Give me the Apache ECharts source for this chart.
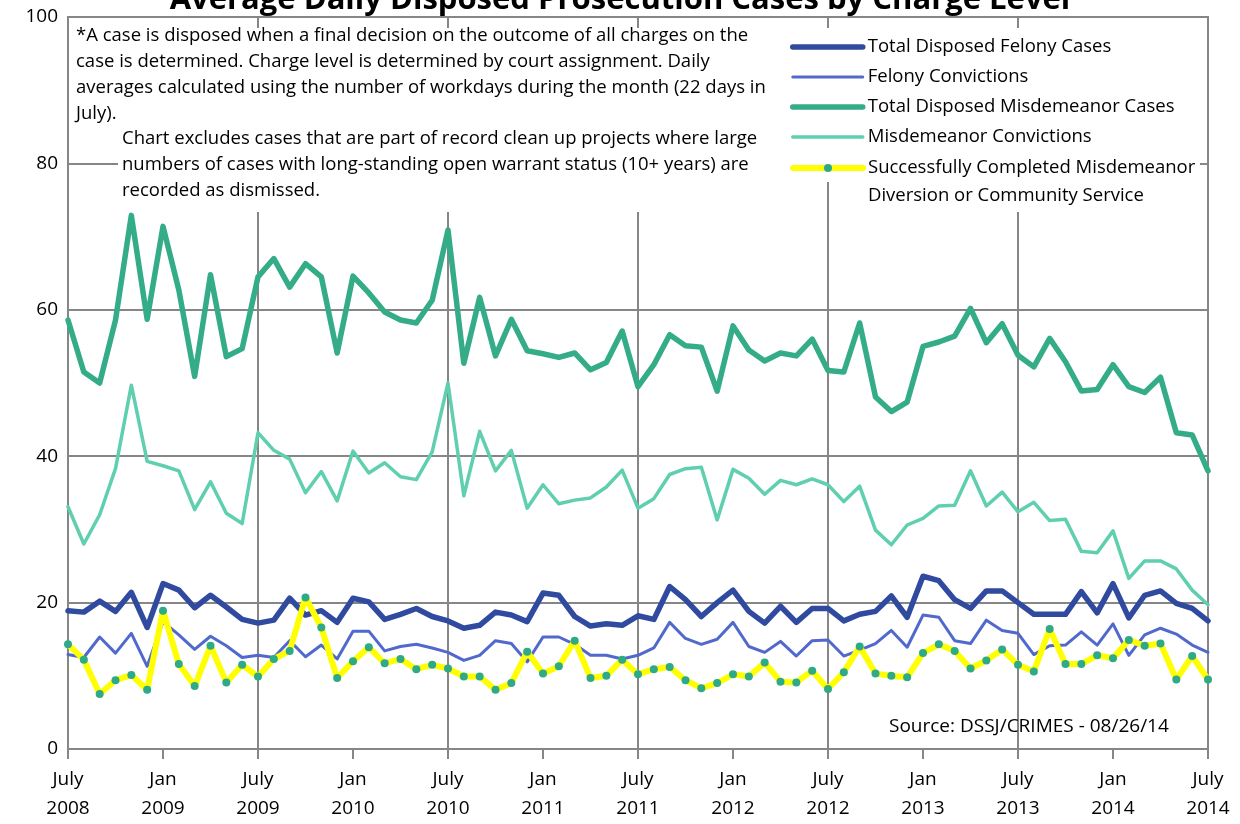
<!DOCTYPE html>
<html>
<head>
<meta charset="utf-8">
<title>Average Daily Disposed Prosecution Cases by Charge Level</title>
<script src="https://cdn.jsdelivr.net/npm/echarts@6/dist/echarts.min.js"></script>
<style>
  html, body { margin: 0; padding: 0; background: #fff; }
  #chart { width: 1240px; height: 824px; }
</style>
</head>
<body>
<div id="chart"></div>
<script>
// months July 2008 .. July 2014
var categories = [];
for (var m = 0; m < 73; m++) {
    var k = 6 + m;
    categories.push((2008 + Math.floor(k / 12)) + '-' + (k % 12 + 1));
}
var tickNames = { 1: 'Jan', 7: 'July' };

var seriesNames = [
    'Total Disposed Felony Cases',
    'Felony Convictions',
    'Total Disposed Misdemeanor Cases',
    'Misdemeanor Convictions',
    'Successfully Completed Misdemeanor\nDiversion or Community Service'
];

var totalFelony = [18.9, 18.7, 20.2, 18.8, 21.4, 16.6, 22.6, 21.7, 19.3, 21.0, 19.4, 17.7,
    17.2, 17.6, 20.6, 18.3, 18.9, 17.3, 20.6, 20.1, 17.7, 18.4, 19.2, 18.1,
    17.5, 16.5, 16.9, 18.7, 18.3, 17.4, 21.3, 21.0, 18.1, 16.8, 17.1, 16.9,
    18.2, 17.7, 22.2, 20.4, 18.1, 20.0, 21.7, 18.8, 17.2, 19.5, 17.3, 19.2,
    19.2, 17.5, 18.4, 18.8, 20.9, 18.0, 23.6, 23.0, 20.4, 19.2, 21.6, 21.6,
    20.0, 18.4, 18.4, 18.4, 21.5, 18.6, 22.6, 17.9, 21.0, 21.6, 19.9, 19.2, 17.5];

var felonyConv = [12.9, 12.5, 15.3, 13.1, 15.8, 11.3, 17.4, 15.6, 13.6, 15.4, 14.1, 12.5,
    12.8, 12.5, 14.8, 12.6, 14.2, 12.3, 16.1, 16.1, 13.4, 14.0, 14.3, 13.8,
    13.2, 12.1, 12.8, 14.8, 14.4, 11.9, 15.3, 15.3, 14.3, 12.8, 12.8, 12.3,
    12.8, 13.8, 17.3, 15.1, 14.3, 15.0, 17.3, 14.0, 13.2, 14.7, 12.7, 14.8,
    14.9, 12.7, 13.5, 14.4, 16.2, 13.9, 18.3, 18.0, 14.8, 14.4, 17.6, 16.2,
    15.8, 12.9, 14.1, 14.2, 16.0, 14.2, 17.1, 12.8, 15.6, 16.5, 15.7, 14.2, 13.2];

var totalMisd = [58.6, 51.5, 50.0, 58.6, 72.9, 58.7, 71.4, 62.7, 50.9, 64.8, 53.6, 54.7,
    64.5, 67.0, 63.1, 66.3, 64.5, 54.1, 64.6, 62.3, 59.7, 58.6, 58.2, 61.3,
    70.9, 52.7, 61.7, 53.7, 58.7, 54.4, 54.0, 53.5, 54.1, 51.8, 52.8, 57.1,
    49.5, 52.5, 56.6, 55.1, 54.9, 48.9, 57.8, 54.5, 53.0, 54.1, 53.7, 56.0,
    51.7, 51.5, 58.2, 48.1, 46.1, 47.4, 55.0, 55.6, 56.4, 60.2, 55.5, 58.1,
    53.8, 52.2, 56.1, 52.9, 48.9, 49.1, 52.5, 49.5, 48.7, 50.8, 43.2, 42.9, 38.0];

var misdConv = [33.1, 28.0, 32.0, 38.3, 49.7, 39.3, 38.7, 38.0, 32.7, 36.5, 32.2, 30.8,
    43.2, 40.8, 39.6, 35.0, 37.9, 33.9, 40.7, 37.7, 39.1, 37.2, 36.8, 40.6,
    50.0, 34.6, 43.4, 38.0, 40.8, 32.9, 36.1, 33.5, 34.0, 34.3, 35.8, 38.1,
    32.9, 34.2, 37.5, 38.3, 38.5, 31.3, 38.2, 37.0, 34.8, 36.7, 36.1, 36.9,
    36.1, 33.8, 35.9, 29.9, 27.9, 30.6, 31.5, 33.2, 33.3, 38.0, 33.2, 35.1,
    32.4, 33.7, 31.2, 31.4, 27.0, 26.8, 29.8, 23.3, 25.7, 25.7, 24.6, 21.7, 19.7];

var diversion = [14.3, 12.2, 7.5, 9.4, 10.1, 8.1, 18.9, 11.6, 8.6, 14.1, 9.1, 11.5,
    9.9, 12.3, 13.4, 20.7, 16.6, 9.7, 12.0, 13.9, 11.7, 12.3, 10.9, 11.5,
    11.0, 9.9, 9.9, 8.1, 9.0, 13.3, 10.3, 11.3, 14.8, 9.7, 10.0, 12.2,
    10.2, 10.9, 11.2, 9.4, 8.3, 9.0, 10.2, 9.9, 11.8, 9.2, 9.1, 10.7,
    8.2, 10.5, 14.0, 10.3, 10.0, 9.8, 13.1, 14.3, 13.4, 11.0, 12.1, 13.6,
    11.5, 10.6, 16.4, 11.6, 11.6, 12.8, 12.4, 14.9, 14.1, 14.4, 9.5, 12.7, 9.5];

var note1 = '*A case is disposed when a final decision on the outcome of all charges on the\n' +
    'case is determined. Charge level is determined by court assignment. Daily\n' +
    'averages calculated using the number of workdays during the month (22 days in\n' +
    'July).';
var note2 = 'Chart excludes cases that are part of record clean up projects where large\n' +
    'numbers of cases with long-standing open warrant status (10+ years) are\n' +
    'recorded as dismissed.';
var source = 'Source: DSSJ/CRIMES - 08/26/14';

var FONT = '"Open Sans", "Noto Sans", sans-serif';
var GRID = '#868686';

function everyN(n) {
    return function (idx) { return idx % n === 0; };
}

function lineSeries(name, data, color, width) {
    return {
        name: name,
        type: 'line',
        data: data,
        symbol: 'none',
        lineStyle: { color: color, width: width, cap: 'round', join: 'round' },
        itemStyle: { color: color },
        emphasis: { disabled: true }
    };
}

var myChart = echarts.init(document.getElementById('chart'));

var option = {
    animation: false,
    backgroundColor: '#fff',
    title: {
        text: 'Average Daily Disposed Prosecution Cases by Charge Level',
        left: 'center',
        top: -20,
        textStyle: { fontFamily: FONT, fontSize: 31, fontWeight: 'bold', color: '#000' }
    },
    grid: {
        left: 68, right: 32, top: 17, bottom: 75,
        show: true, borderColor: GRID, borderWidth: 2
    },
    legend: [{
        data: seriesNames.slice(0, 4),
        orient: 'vertical',
        left: 785, top: 32, padding: 5,
        itemWidth: 70, itemHeight: 14, itemGap: 10,
        selectedMode: false,
        itemStyle: { opacity: 0, color: 'rgba(0,0,0,0)', borderWidth: 0 },
        lineStyle: { width: 'inherit' },
        textStyle: { fontFamily: FONT, fontSize: 18.5, color: '#000', lineHeight: 20 }
    }, {
        data: seriesNames.slice(4),
        orient: 'vertical',
        left: 785, top: 121, padding: 5,
        itemWidth: 70, itemHeight: 10,
        selectedMode: false,
        lineStyle: { width: 'inherit' },
        formatter: function (name) { return '\n' + name; },
        textStyle: { fontFamily: FONT, fontSize: 18.5, color: '#000', lineHeight: 28 }
    }],
    xAxis: {
        type: 'category',
        data: categories,
        boundaryGap: false,
        axisLine: { lineStyle: { color: GRID, width: 2 } },
        axisTick: { show: true, interval: everyN(6), length: 10, lineStyle: { color: GRID, width: 2 } },
        axisLabel: {
            interval: everyN(6),
            margin: 16,
            fontFamily: FONT, fontSize: 19, color: '#000', lineHeight: 29,
            formatter: function (v) {
                var p = v.split('-');
                return tickNames[+p[1]] + '\n' + p[0];
            }
        },
        splitLine: { show: true, interval: everyN(12), lineStyle: { color: GRID, width: 2 } }
    },
    yAxis: {
        type: 'value',
        min: 0, max: 100, interval: 20,
        axisLine: { show: false },
        axisTick: { show: false },
        axisLabel: { fontFamily: FONT, fontSize: 19, color: '#000', margin: 10 },
        splitLine: { lineStyle: { color: GRID, width: 2 } }
    },
    graphic: [
        // white note / legend boxes hiding the grid lines
        { type: 'rect', z: 1, shape: { x: 70, y: 28, width: 708, height: 97 }, style: { fill: '#fff' } },
        { type: 'rect', z: 1, shape: { x: 118, y: 125, width: 660, height: 87 }, style: { fill: '#fff' } },
        { type: 'rect', z: 1, shape: { x: 776, y: 28, width: 424, height: 154 }, style: { fill: '#fff' } },
        { type: 'rect', z: 1, shape: { x: 860, y: 182, width: 340, height: 30 }, style: { fill: '#fff' } },
        { type: 'text', z: 5, x: 76, y: 23,
          style: { text: note1, fontFamily: FONT, fontSize: 18.5, lineHeight: 25.8, fill: '#000' } },
        { type: 'text', z: 5, x: 122, y: 126,
          style: { text: note2, fontFamily: FONT, fontSize: 18.5, lineHeight: 25.8, fill: '#000' } },
        { type: 'text', z: 5, x: 889, y: 714,
          style: { text: source, fontFamily: FONT, fontSize: 19, lineHeight: 26, fill: '#000' } }
    ],
    series: [
        lineSeries(seriesNames[0], totalFelony, '#2F4A9E', 5.5),
        lineSeries(seriesNames[1], felonyConv, '#5169CC', 3),
        lineSeries(seriesNames[2], totalMisd, '#35AC88', 5.5),
        lineSeries(seriesNames[3], misdConv, '#5FCFB0', 3.5),
        {
            name: seriesNames[4],
            type: 'line',
            data: diversion,
            symbol: 'circle',
            symbolSize: 8,
            itemStyle: { color: '#2EAA88', borderWidth: 0 },
            lineStyle: { color: '#FFFF00', width: 6, cap: 'round', join: 'round' },
            emphasis: { disabled: true }
        }
    ]
};

myChart.setOption(option);
</script>
</body>
</html>
